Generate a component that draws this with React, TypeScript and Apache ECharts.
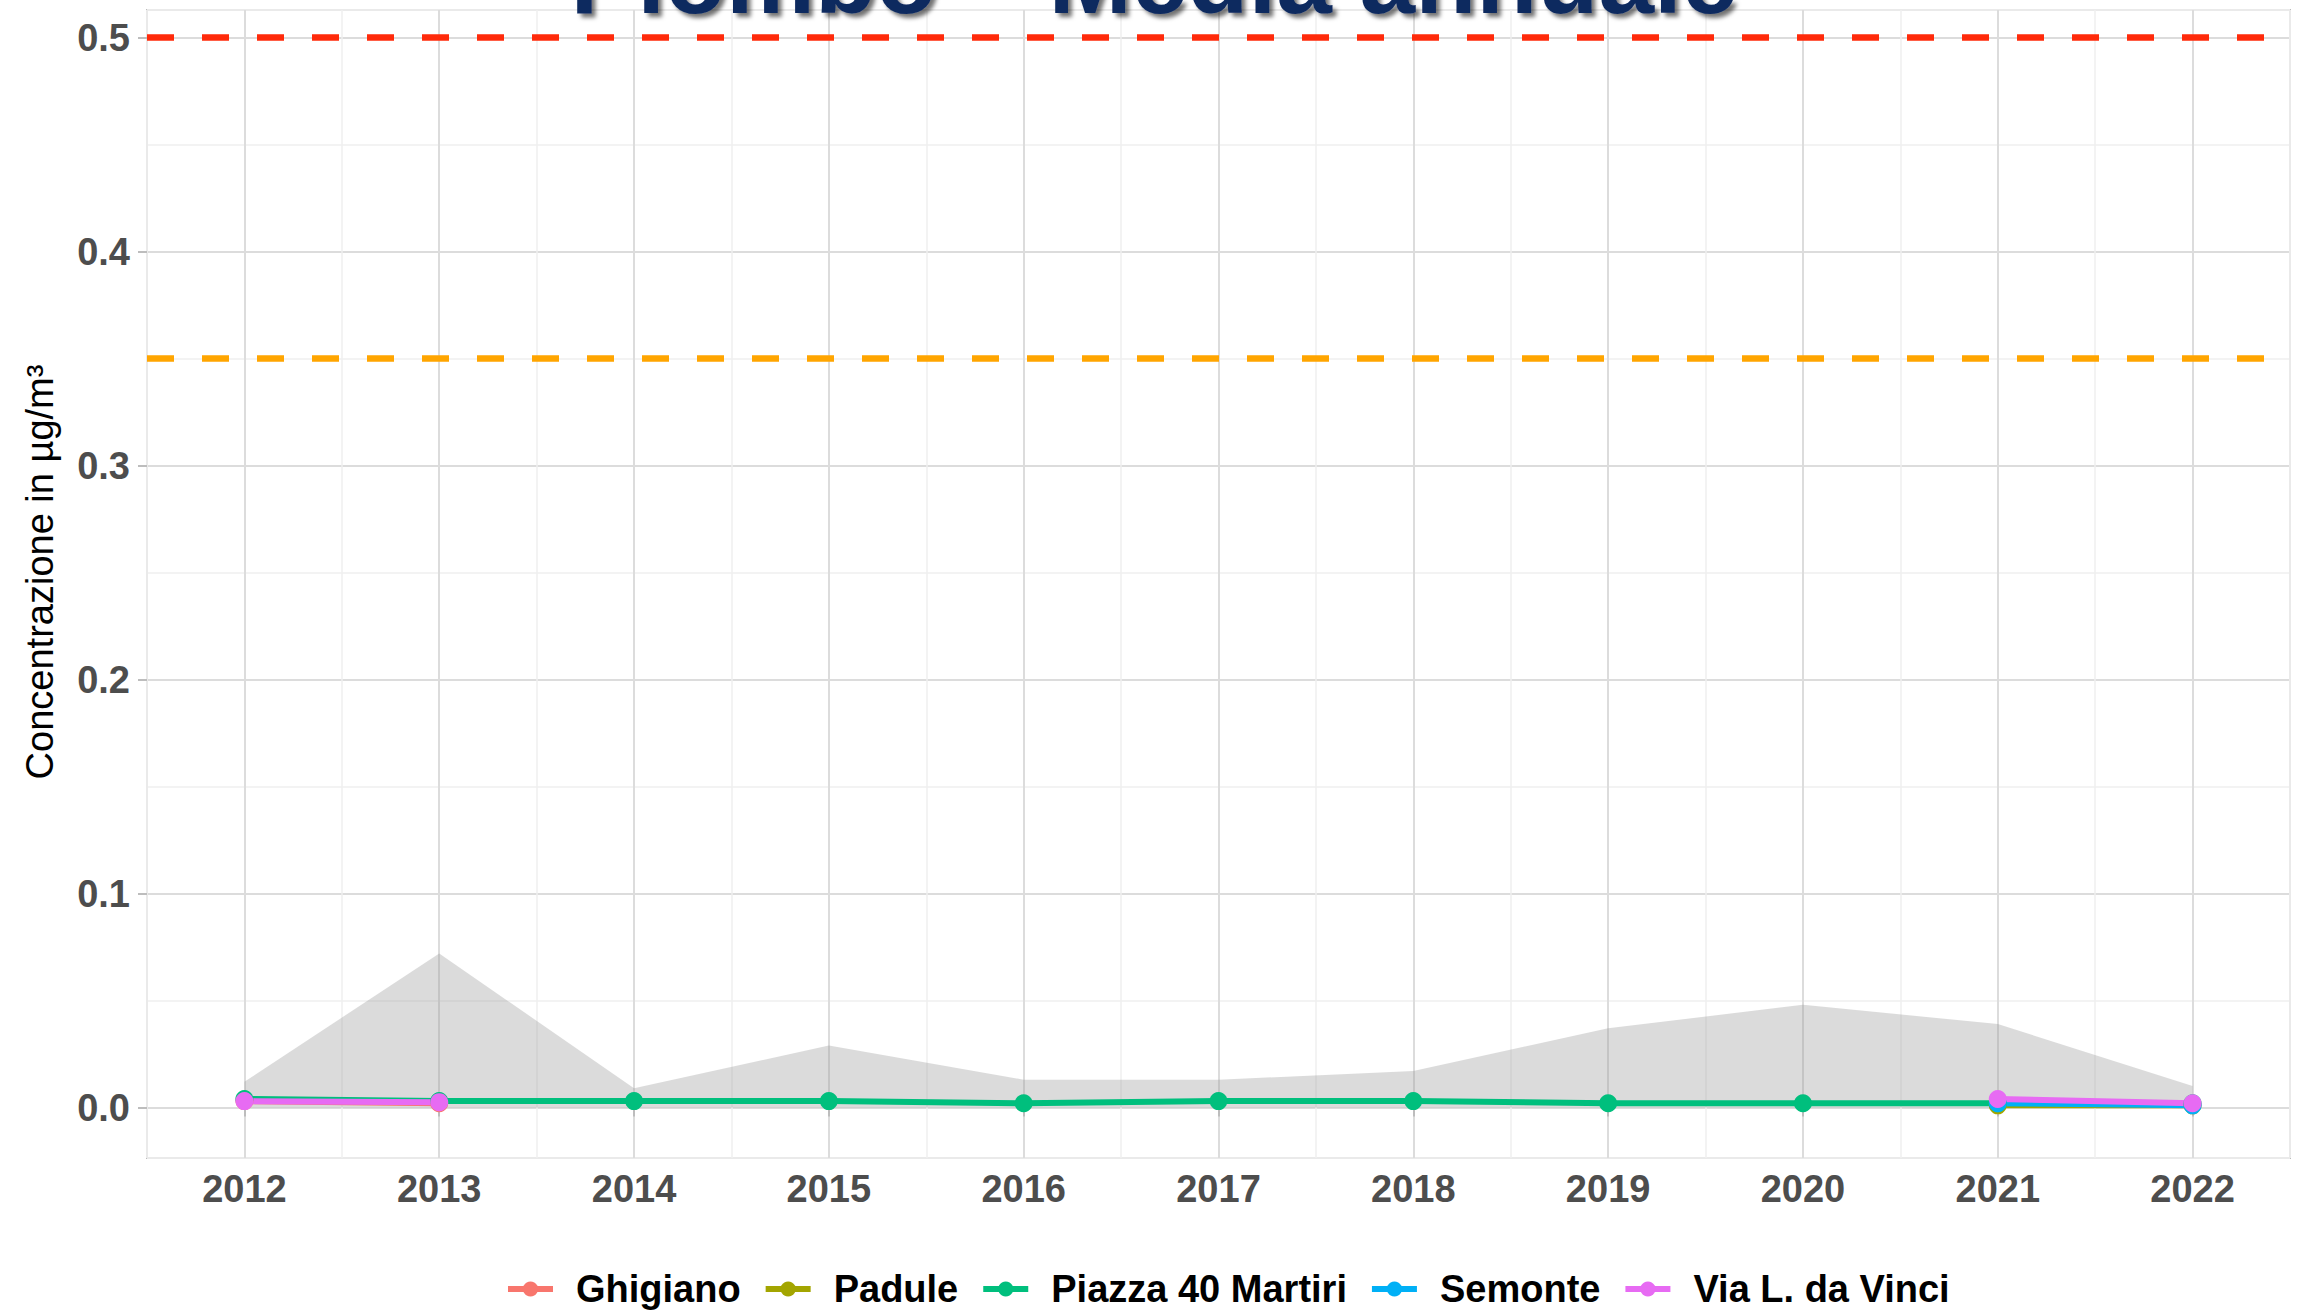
import React, { useEffect, useRef } from "react";
import * as echarts from "echarts";

// ---- data ----
const years = [2012, 2013, 2014, 2015, 2016, 2017, 2018, 2019, 2020, 2021, 2022];
const ribbonUpper = [0.012, 0.072, 0.009, 0.029, 0.013, 0.013, 0.017, 0.037, 0.048, 0.039, 0.01];
const ghigiano = [0.003, 0.002, null, null, null, null, null, null, null, null, null];
const padule = [null, null, null, null, null, null, null, null, null, 0.001, 0.001];
const piazza40Martiri = [0.004, 0.003, 0.003, 0.003, 0.002, 0.003, 0.003, 0.002, 0.002, 0.002, 0.002];
const semonte = [null, null, null, null, null, null, null, null, null, 0.002, 0.001];
const viaDaVinci = [0.003, 0.0025, null, null, null, null, null, null, null, 0.004, 0.002];
const stationNames = ["Ghigiano", "Padule", "Piazza 40 Martiri", "Semonte", "Via L. da Vinci"];
const stationValues = [ghigiano, padule, piazza40Martiri, semonte, viaDaVinci];
const stationColors = ["#F8766D", "#A3A500", "#00BF7D", "#00B0F6", "#E76BF3"];
const limitValue = 0.5;
const assessmentThreshold = 0.35;
const titleText = "Piombo – Media annuale";
const yAxisTitle = "Concentrazione in µg/m³";

const FONT = "'Liberation Sans', Arial, Helvetica, sans-serif";
const Y_MIN = -0.0236;
const Y_MAX = 0.5129;
const X_MIN = 2011.5;
const X_MAX = 2022.5;

const pairs = (vals: (number | null)[]) => years.map((y, i) => [y, vals[i]]);

export default function App() {
  const ref = useRef<HTMLDivElement>(null);
  useEffect(() => {
    document.body.style.margin = "0";
    if (!ref.current) return;
    const chart = echarts.init(ref.current, undefined, { renderer: "svg" });
    const majorGrid = "#dcdcdc";
    const minorGrid = "#efefef";
    const option: any = {
      animation: false,
      backgroundColor: "#ffffff",
      textStyle: { fontFamily: FONT },
      grid: {
        left: 147,
        right: 15,
        top: 10,
        bottom: 154,
        show: true,
        borderColor: "#bdbdbd",
        borderWidth: 2,
        containLabel: false,
      },
      graphic: [
        {
          type: "text",
          x: 1154,
          y: -22,
          z: 100,
          style: {
            text: titleText,
            x: 0,
            y: 0,
            fontSize: 100,
            fontWeight: "bold",
            fontFamily: FONT,
            fill: "#0f2a5f",
            textAlign: "center",
            textVerticalAlign: "middle",
            textShadowColor: "rgba(0,0,0,0.55)",
            textShadowBlur: 4,
            textShadowOffsetX: 4,
            textShadowOffsetY: 4,
          },
        },
      ],
      legend: {
        data: stationNames,
        left: 500,
        top: 1265,
        itemWidth: 45,
        itemHeight: 19,
        itemGap: 22,
        lineStyle: { width: 6 },
        textStyle: {
          fontSize: 38,
          fontWeight: "bold",
          color: "#000",
          fontFamily: FONT,
          padding: [0, 0, 0, 18],
        },
      },
      xAxis: [
        {
          type: "value",
          min: X_MIN,
          max: X_MAX,
          splitNumber: 11,
          axisLine: { show: false },
          axisTick: { show: true, length: 9, lineStyle: { color: "#bdbdbd", width: 2 } },
          axisLabel: {
            showMinLabel: false,
            showMaxLabel: false,
            margin: 12,
            fontSize: 38,
            fontWeight: "bold",
            color: "#4d4d4d",
            fontFamily: FONT,
            formatter: (v: number) => (Number.isInteger(v) ? String(v) : ""),
          },
          splitLine: { show: true, lineStyle: { color: majorGrid, width: 2 } },
        },
        {
          type: "value",
          min: X_MIN,
          max: X_MAX,
          splitNumber: 22,
          position: "bottom",
          axisLine: { show: false },
          axisTick: { show: false },
          axisLabel: { show: false },
          splitLine: { show: true, lineStyle: { color: [minorGrid, "rgba(0,0,0,0)"], width: 1.5 } },
        },
      ],
      yAxis: [
        {
          type: "value",
          min: Y_MIN,
          max: Y_MAX,
          splitNumber: 5,
          axisLine: { show: false },
          axisTick: { show: true, length: 9, lineStyle: { color: "#bdbdbd", width: 2 } },
          axisLabel: {
            showMinLabel: false,
            showMaxLabel: false,
            margin: 17,
            fontSize: 38,
            fontWeight: "bold",
            color: "#4d4d4d",
            fontFamily: FONT,
            formatter: (v: number) => v.toFixed(1),
          },
          splitLine: { show: true, lineStyle: { color: majorGrid, width: 2 } },
          name: yAxisTitle,
          nameLocation: "middle",
          nameGap: 88,
          nameRotate: 90,
          nameTextStyle: {
            fontSize: 38,
            color: "#000",
            fontFamily: FONT,
            padding: [0, 0, 0, 24],
          },
        },
        {
          type: "value",
          min: Y_MIN,
          max: Y_MAX,
          splitNumber: 10,
          position: "left",
          axisLine: { show: false },
          axisTick: { show: false },
          axisLabel: { show: false },
          splitLine: { show: true, lineStyle: { color: [minorGrid, "rgba(0,0,0,0)"], width: 1.5 } },
        },
      ],
      series: [
        {
          name: "range",
          type: "line",
          data: pairs(ribbonUpper),
          showSymbol: false,
          symbol: "none",
          lineStyle: { width: 0, opacity: 0 },
          areaStyle: { color: "rgba(150,150,150,0.34)", opacity: 1, origin: 0 },
          silent: true,
          z: 1,
        },
        {
          name: "thresholds",
          type: "line",
          data: [],
          z: 3,
          markLine: {
            silent: true,
            symbol: ["none", "none"],
            label: { show: false },
            data: [
              { yAxis: limitValue, lineStyle: { color: "#ff2a0a", width: 6.5, type: [27, 28] } },
              { yAxis: assessmentThreshold, lineStyle: { color: "#FFA500", width: 6.5, type: [27, 28] } },
            ],
          },
        },
        ...stationNames.map((name, i) => ({
          name,
          type: "line",
          data: pairs(stationValues[i]),
          color: stationColors[i],
          symbol: "circle",
          symbolSize: 18,
          showSymbol: true,
          connectNulls: false,
          lineStyle: { width: 6, color: stationColors[i] },
          itemStyle: { color: stationColors[i] },
          z: 4,
        })),
      ],
    };
    chart.setOption(option);
    return () => chart.dispose();
  }, []);
  return (
    <div
      ref={ref}
      style={{ position: "fixed", left: 0, top: 0, width: 2305, height: 1312 }}
    />
  );
}
